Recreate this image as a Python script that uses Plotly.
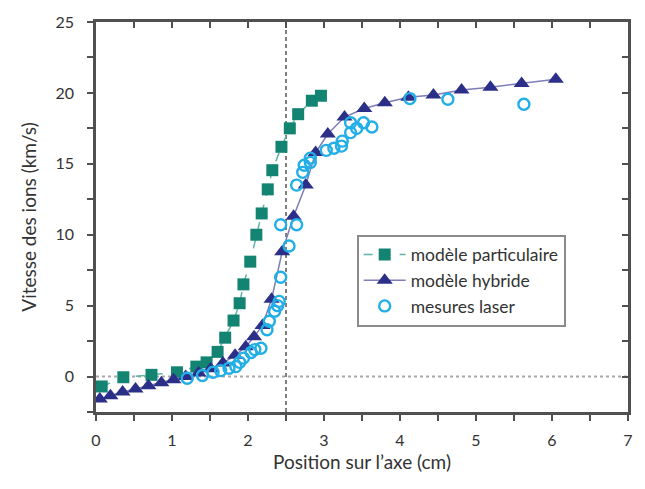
import plotly.graph_objects as go

# modèle particulaire (squares)
part_x = [0.075, 0.36, 0.73, 1.065, 1.32, 1.455, 1.60, 1.70, 1.81, 1.89, 1.94, 2.03,
          2.11, 2.18, 2.26, 2.32, 2.44, 2.55, 2.66, 2.84, 2.96]
part_y = [-0.70, -0.05, 0.12, 0.30, 0.70, 1.00, 1.74, 2.74, 3.95, 5.17, 6.50, 8.10,
          10.0, 11.5, 13.2, 14.55, 16.2, 17.5, 18.5, 19.45, 19.8]

# modèle hybride (triangles)
hyb_x = [0.05, 0.19, 0.35, 0.52, 0.69, 0.86, 1.02, 1.18, 1.35, 1.51, 1.67, 1.83, 1.97,
         2.08, 2.19, 2.31, 2.45, 2.60, 2.76, 2.89, 3.05, 3.27, 3.53, 3.80, 4.11, 4.44,
         4.81, 5.19, 5.60, 6.05]
hyb_y = [-1.58, -1.35, -1.09, -0.88, -0.65, -0.44, -0.23, 0.0, 0.25, 0.55, 0.95, 1.5,
         2.1, 2.8, 3.6, 5.45, 8.8, 11.3, 13.5, 15.8, 17.1, 18.3, 18.9, 19.3, 19.7,
         19.85, 20.2, 20.4, 20.66, 20.96]

# mesures laser (open circles)
laser_x = [1.20, 1.40, 1.54, 1.64, 1.75, 1.84, 1.89, 1.94, 2.04, 2.09, 2.17, 2.25, 2.28,
           2.35, 2.39, 2.41, 2.43, 2.54, 2.43, 2.64, 2.64, 2.72, 2.74, 2.82, 2.82, 3.03,
           3.13, 3.23, 3.24, 3.35, 3.35, 3.43, 3.52, 3.63, 4.13, 4.63, 5.63]
laser_y = [-0.12, 0.07, 0.30, 0.42, 0.58, 0.70, 1.00, 1.30, 1.70, 1.90, 2.00, 3.30, 3.90,
           4.60, 5.00, 5.30, 7.00, 9.20, 10.7, 10.7, 13.5, 14.4, 14.9, 15.1, 15.4, 15.95,
           16.1, 16.25, 16.6, 17.2, 17.9, 17.5, 17.9, 17.6, 19.6, 19.55, 19.2]

x_ticks = [i * 0.5 for i in range(15)]
x_labels = [str(int(v)) if v == int(v) else "" for v in x_ticks]
y_ticks = [-2.5 + i * 2.5 for i in range(12)]
y_labels = [str(int(v)) if v >= 0 and v % 5 == 0 else "" for v in y_ticks]

FONT = "Lato"
AX = "#505050"

fig = go.Figure()

# reference lines
fig.add_shape(type="line", xref="x", yref="y", x0=0, x1=7, y0=0, y1=0,
              line=dict(color="#a8a8a8", width=2, dash="dot"), layer="below")
fig.add_shape(type="line", xref="x", yref="y", x0=2.5, x1=2.5, y0=-2.5, y1=25,
              line=dict(color="black", width=1, dash="4px,3px"), layer="below")

fig.add_trace(go.Scatter(
    x=part_x, y=part_y, mode="lines+markers", name="modèle particulaire",
    line=dict(color="#5fb3a6", width=1.5, dash="dash"),
    marker=dict(symbol="square", size=12, color="#138472")))

fig.add_trace(go.Scatter(
    x=hyb_x, y=hyb_y, mode="lines+markers", name="modèle hybride",
    line=dict(color="#7d7db8", width=1.5),
    marker=dict(symbol="triangle-up", size=14, color="#2b2f88")))

fig.add_trace(go.Scatter(
    x=laser_x, y=laser_y, mode="markers", name="mesures laser",
    marker=dict(symbol="circle-open", size=11, color="#22aee6", line=dict(width=2.4))))

# dummy trace for mirrored (inside-tick) axes
fig.add_trace(go.Scatter(x=[None], y=[None], xaxis="x2", yaxis="y2",
                         showlegend=False, hoverinfo="skip"))

fig.update_layout(
    width=645, height=489,
    margin=dict(l=96, r=14, t=16, b=77),
    paper_bgcolor="white", plot_bgcolor="white",
    font=dict(family=FONT, size=16, color="#333333"),
    showlegend=True,
    legend=dict(x=0.49, y=0.455, xanchor="left", yanchor="top",
                bordercolor="#8a8a8a", borderwidth=2, bgcolor="white",
                font=dict(family=FONT, size=17.5, color="#333333"),
                itemwidth=42, tracegroupgap=0),
    xaxis=dict(range=[0, 7], tickvals=x_ticks, ticktext=x_labels,
               ticks="outside", ticklen=6, tickwidth=2, tickcolor=AX,
               showline=True, linecolor=AX, linewidth=2.5, showgrid=False,
               zeroline=False, title=dict(text="Position sur l’axe (cm)", standoff=8),
               ticklabelstandoff=6),
    yaxis=dict(range=[-2.5, 25], tickvals=y_ticks, ticktext=y_labels,
               ticks="outside", ticklen=6, tickwidth=2, tickcolor=AX,
               showline=True, linecolor=AX, linewidth=2.5, showgrid=False,
               zeroline=False, title=dict(text="Vitesse des ions (km/s)", standoff=14),
               ticklabelstandoff=10),
    xaxis2=dict(range=[0, 7], overlaying="x", side="top", tickvals=x_ticks,
                showticklabels=False, ticks="inside", ticklen=6, tickwidth=2,
                tickcolor=AX, showline=True, linecolor=AX, linewidth=2.5,
                showgrid=False, zeroline=False),
    yaxis2=dict(range=[-2.5, 25], overlaying="y", side="right", tickvals=y_ticks,
                showticklabels=False, ticks="inside", ticklen=6, tickwidth=2,
                tickcolor=AX, showline=True, linecolor=AX, linewidth=2.5,
                showgrid=False, zeroline=False),
)

fig.write_html("out.html")
